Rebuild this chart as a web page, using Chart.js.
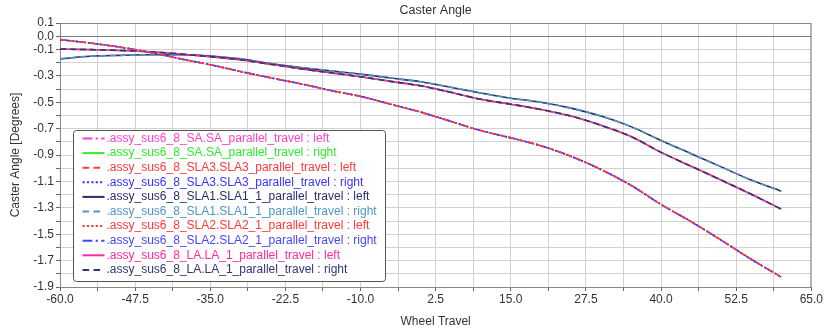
<!DOCTYPE html>
<html>
<head>
<meta charset="utf-8">
<script src="https://cdn.jsdelivr.net/npm/chart.js@4.4.1/dist/chart.umd.min.js"></script>
<style>
	html, body { margin: 0; padding: 0; background: #fff; }
	#wrap { width: 824px; height: 332px; }
</style>
</head>
<body>
<div id="wrap"><canvas id="casterChart" width="824" height="332"></canvas></div>
<script>
// wheel travel samples (x)
const travel = [-60, -55, -50, -45, -40, -35, -30, -25, -20, -15, -10, -5, 0, 5, 10, 15, 20, 25, 30, 35, 40, 45, 50, 55, 60];

// caster angle curves (degrees)
const casterSaLa = [-0.097, -0.102, -0.108, -0.118, -0.135, -0.155, -0.179, -0.212, -0.246, -0.277, -0.307, -0.342, -0.376, -0.425, -0.478, -0.515, -0.555, -0.605, -0.675, -0.76, -0.88, -0.985, -1.09, -1.197, -1.31];
const casterSla1 = [-0.172, -0.152, -0.145, -0.141, -0.141, -0.15, -0.172, -0.207, -0.237, -0.263, -0.287, -0.317, -0.345, -0.387, -0.43, -0.47, -0.5, -0.545, -0.605, -0.685, -0.79, -0.89, -0.99, -1.09, -1.174];
const casterSla23 = [-0.026, -0.052, -0.083, -0.123, -0.171, -0.216, -0.267, -0.315, -0.36, -0.411, -0.456, -0.515, -0.575, -0.645, -0.715, -0.77, -0.83, -0.91, -1.01, -1.13, -1.275, -1.405, -1.545, -1.69, -1.825];

const seriesNames = [
	'.assy_sus6_8_SA.SA_parallel_travel : left',
	'.assy_sus6_8_SA.SA_parallel_travel : right',
	'.assy_sus6_8_SLA3.SLA3_parallel_travel : left',
	'.assy_sus6_8_SLA3.SLA3_parallel_travel : right',
	'.assy_sus6_8_SLA1.SLA1_1_parallel_travel : left',
	'.assy_sus6_8_SLA1.SLA1_1_parallel_travel : right',
	'.assy_sus6_8_SLA2.SLA2_1_parallel_travel : left',
	'.assy_sus6_8_SLA2.SLA2_1_parallel_travel : right',
	'.assy_sus6_8_LA.LA_1_parallel_travel : left',
	'.assy_sus6_8_LA.LA_1_parallel_travel : right'
];
const seriesCurves = [casterSaLa, casterSaLa, casterSla23, casterSla23, casterSla1, casterSla1, casterSla23, casterSla23, casterSaLa, casterSaLa];

// styles
const seriesColors = ['#ff3fc8', '#33e833', '#ff3838', '#3434ff', '#2c2c6c', '#4f97bd', '#ff3838', '#4646ff', '#ff2a9c', '#34347a'];
const seriesDash = [[9, 3, 2, 3], [], [6, 4], [2, 2], [], [6, 4], [2, 2], [9, 3, 2, 3], [], [6, 4]];
// lower order = drawn on top
const seriesOrder = [20, 19, 2, 15, 18, 17, 16, 14, 13, 12];

const datasets = seriesNames.map((name, i) => ({
	label: name,
	data: travel.map((x, j) => ({ x: x, y: seriesCurves[i][j] })),
	borderColor: seriesColors[i],
	borderDash: seriesDash[i],
	borderWidth: 1.6,
	pointRadius: 0,
	fill: false,
	cubicInterpolationMode: 'monotone',
	order: seriesOrder[i]
}));

// frame, zero line, title and boxed legend inside the plot
const plotDecor = {
	id: 'plotDecor',
	beforeDatasetsDraw(chart) {
		const { ctx, chartArea: a, scales } = chart;
		ctx.save();
		const y0 = scales.y.getPixelForValue(0);
		ctx.strokeStyle = '#7a7a7a';
		ctx.lineWidth = 1;
		ctx.beginPath();
		ctx.moveTo(a.left, Math.round(y0) + 0.5);
		ctx.lineTo(a.right, Math.round(y0) + 0.5);
		ctx.stroke();
		ctx.strokeStyle = '#888';
		ctx.strokeRect(a.left + 0.5, a.top + 0.5, a.right - a.left - 1, a.bottom - a.top);
		ctx.restore();
	},
	afterDraw(chart) {
		const { ctx, chartArea: a } = chart;
		ctx.save();
		ctx.fillStyle = '#333';
		ctx.font = '12.5px "Liberation Sans", Arial, sans-serif';
		ctx.textAlign = 'center';
		ctx.textBaseline = 'middle';
		ctx.fillText('Caster Angle', (a.left + a.right) / 2, 11);

		// legend box
		const bx = a.left + 13.5, bw = 312, bh = 151;
		const by = a.bottom - 6 - bh + 0.5;
		ctx.fillStyle = '#fff';
		ctx.strokeStyle = '#555';
		ctx.lineWidth = 1;
		ctx.beginPath();
		ctx.roundRect(bx, by, bw, bh, 3);
		ctx.fill();
		ctx.stroke();

		ctx.font = '12px "Liberation Sans", Arial, sans-serif';
		ctx.textAlign = 'left';
		chart.data.datasets.forEach((ds, i) => {
			const ry = by + 8 + i * 14.6;
			ctx.strokeStyle = ds.borderColor;
			ctx.lineWidth = 2;
			ctx.setLineDash(ds.borderDash.length ? ds.borderDash.map(v => v * 1.1) : []);
			ctx.beginPath();
			ctx.moveTo(bx + 9, ry);
			ctx.lineTo(bx + 31, ry);
			ctx.stroke();
			ctx.setLineDash([]);
			ctx.fillStyle = ds.borderColor;
			ctx.fillText(ds.label, bx + 33, ry);
		});
		ctx.restore();
	}
};

const gridColor = '#d2d2d2';

new Chart(document.getElementById('casterChart'), {
	type: 'line',
	data: { datasets },
	options: {
		responsive: false,
		devicePixelRatio: 1,
		animation: false,
		layout: { padding: { left: 0, right: 12, top: 23, bottom: 0 } },
		plugins: {
			legend: { display: false },
			title: { display: false },
			tooltip: { enabled: false }
		},
		scales: {
			x: {
				type: 'linear',
				min: -60,
				max: 65,
				afterFit: s => { s.height = 45; },
				grid: { color: gridColor, tickColor: '#666', tickLength: 4, lineWidth: 1 },
				border: { color: '#666' },
				ticks: {
					stepSize: 6.25,
					autoSkip: false,
					maxRotation: 0,
					padding: 1,
					color: '#333',
					font: { family: '"Liberation Sans", Arial, sans-serif', size: 12 },
					callback: (v, i) => (i % 2 === 0 ? Number(v).toFixed(1) : '')
				},
				title: {
					display: true,
					text: 'Wheel Travel',
					color: '#333',
					font: { family: '"Liberation Sans", Arial, sans-serif', size: 12 },
					padding: { top: 0, bottom: 3 }
				}
			},
			y: {
				min: -1.9,
				max: 0.1,
				afterFit: s => { s.width = 60; },
				grid: { color: gridColor, tickColor: '#666', tickLength: 4, lineWidth: 1 },
				border: { color: '#666' },
				ticks: {
					stepSize: 0.1,
					autoSkip: false,
					padding: 2,
					color: '#333',
					font: { family: '"Liberation Sans", Arial, sans-serif', size: 12 },
					callback: v => {
						const k = Math.round(v * 10);
						return (k % 2 !== 0 || k === 0) ? (k / 10).toFixed(1) : '';
					}
				},
				title: {
					display: true,
					text: 'Caster Angle [Degrees]',
					color: '#333',
					font: { family: '"Liberation Sans", Arial, sans-serif', size: 12 },
					padding: { top: 8, bottom: 0 }
				}
			}
		}
	},
	plugins: [plotDecor]
});
</script>
</body>
</html>
